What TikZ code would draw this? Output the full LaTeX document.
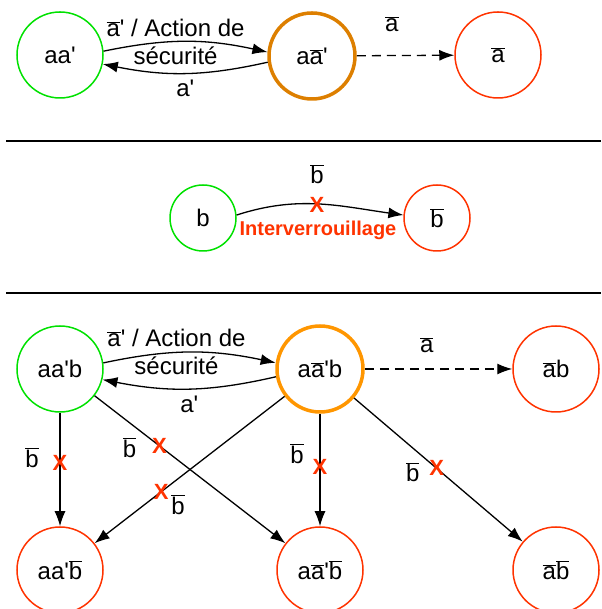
\documentclass[tikz,border=0pt]{standalone}
\usepackage{fontspec}
\setmainfont{Liberation Sans}
\usetikzlibrary{arrows.meta}

\definecolor{vert}{RGB}{0,225,0}
\definecolor{rouge}{RGB}{255,51,0}
\definecolor{orangef}{RGB}{221,127,0}
\definecolor{orangec}{RGB}{255,150,0}

\newcommand{\nonx}[1]{$\overline{\mbox{#1}}$}
\newcommand{\ap}{\textquotesingle}

\begin{document}
\begin{tikzpicture}[x=1pt, y=1pt, font=\fontsize{24}{28}\selectfont,
    line width=1.3pt, >={Latex[length=15pt,width=11pt]},
    etat/.style={circle, draw, minimum size=86pt, inner sep=0pt},
    depart/.style={etat, draw=vert, line width=1.5pt},
    arrivee/.style={etat, draw=rouge, line width=1.5pt},
    croix/.style={text=rouge, font=\fontsize{22}{26}\selectfont\bfseries, inner sep=0pt},
    pointille/.style={dash pattern=on 9pt off 6pt}]
    \clip (0,0) rectangle (601,609);

    % premier cas
    \node[depart] (aa) at (60,554) {aa\ap};
    \node[etat, draw=orangef, line width=3.5pt] (aat) at (312,553) {a\nonx{a}\ap};
    \node[arrivee] (na) at (498,554) {\nonx{a}};
    \draw[->] (aa.5) to[bend left=12] node[align=center, xshift=-10pt] {\nonx{a}\ap{} / Action de\\s\'ecurit\'e} (aat.175);
    \draw[->] (aat.188) to[bend left=12] node[below=3pt] {a\ap} (aa.-12);
    \draw[->, pointille] (aat) -- (na) node[pos=0.36, yshift=31pt] {\nonx{a}};

    \draw[line width=1.6pt] (6,468) -- (601,468);

    % interverrouillage
    \node[depart, minimum size=66pt] (b) at (203,391) {b};
    \node[arrivee, minimum size=66pt] (nb) at (437,391) {\nonx{b}};
    \draw[->] (b.5) to[out=18, in=172] (nb.175);
    \node[croix] (x0) at (317,404) {X};
    \node (lb) at (317,435) {\nonx{b}};
    \node[croix, font=\fontsize{20}{24}\selectfont\bfseries] (inter) at (318,379) {Interverrouillage};

    \draw[line width=1.6pt] (6,316) -- (601,316);

    % deuxieme cas
    \node[depart] (aab) at (60,240) {aa\ap b};
    \node[etat, draw=orangec, line width=3.5pt] (aatb) at (320,240) {a\nonx{a}\ap b};
    \node[arrivee] (nab) at (556,240) {\nonx{a}b};
    \node[arrivee] (aanb) at (60,39) {aa\ap\nonx{b}};
    \node[arrivee] (aatnb) at (320,39) {a\nonx{a}\ap\nonx{b}};
    \node[arrivee] (nanb) at (556,39) {\nonx{a}\nonx{b}};

    \draw[->] (aab.8) to[bend left=12] node[align=center, xshift=-13pt] {\nonx{a}\ap{} / Action de\\s\'ecurit\'e} (aatb.172);
    \draw[->] (aatb.190) to[bend left=12] node[below=3pt] {a\ap} (aab.-14);
    \draw[->, pointille] (aatb) -- (nab) node[pos=0.42, yshift=24pt] {\nonx{a}};

    \draw[->] (aab) -- (aanb) node[pos=0.44, croix] {X}
        node[pos=0.44, xshift=-28pt, yshift=5pt] {\nonx{b}};
    \draw[->] (aab) -- (aatnb) node[pos=0.34, croix] {X}
        node[pos=0.34, xshift=-30pt, yshift=-2pt] {\nonx{b}};
    \draw[->] (aatb) -- (aanb) node[pos=0.65, croix] {X}
        node[pos=0.65, xshift=17pt, yshift=-13pt] {\nonx{b}};
    \draw[->] (aatb) -- (aatnb) node[pos=0.47, croix] {X}
        node[pos=0.47, xshift=-23pt, yshift=13pt] {\nonx{b}};
    \draw[->] (aatb) -- (nanb) node[pos=0.49, croix] {X}
        node[pos=0.49, xshift=-24pt, yshift=-4pt] {\nonx{b}};
\end{tikzpicture}
\end{document}
